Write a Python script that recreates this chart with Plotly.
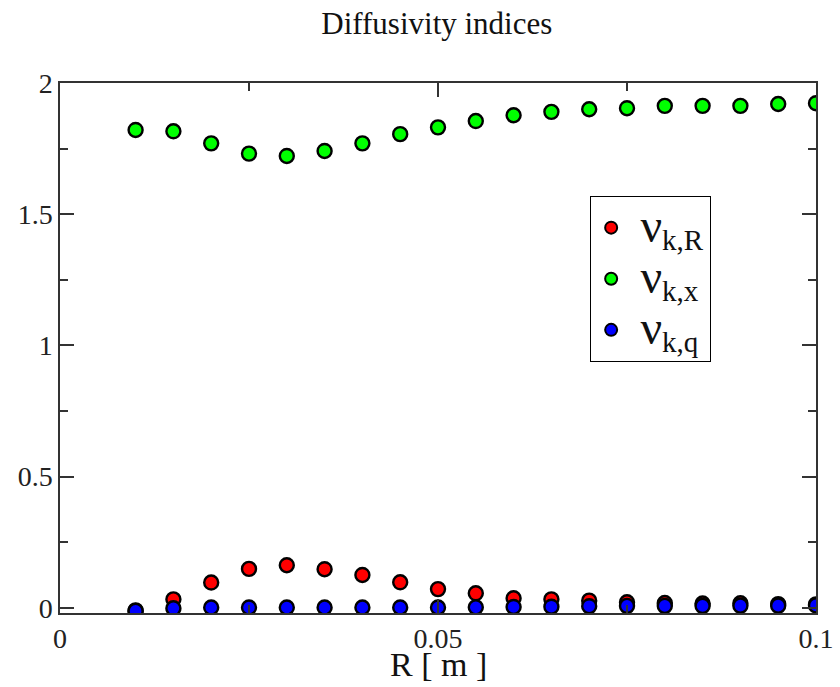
import plotly.graph_objects as go

R = [0.010, 0.015, 0.020, 0.025, 0.030, 0.035, 0.040, 0.045, 0.050, 0.055,
     0.060, 0.065, 0.070, 0.075, 0.080, 0.085, 0.090, 0.095, 0.100]
nu_kR = [-0.010, 0.032, 0.096, 0.148, 0.162, 0.147, 0.125, 0.097, 0.071, 0.055,
         0.036, 0.032, 0.027, 0.021, 0.018, 0.016, 0.017, 0.014, 0.013]
nu_kx = [1.821, 1.816, 1.770, 1.731, 1.722, 1.741, 1.770, 1.805, 1.831, 1.855,
         1.877, 1.890, 1.900, 1.904, 1.913, 1.913, 1.913, 1.920, 1.923]
nu_kq = [-0.012, -0.002, 0.001, 0.001, 0.001, 0.001, 0.001, 0.001, 0.001, 0.002,
         0.003, 0.004, 0.006, 0.007, 0.007, 0.007, 0.008, 0.008, 0.009]

subs = ["k,R", "k,x", "k,q"]
names = ["\u00a0<span style='font-size:48px'>ν</span><sub><span style='font-size:29px'>%s</span></sub>" % s
         for s in subs]
colors = ["#ff0000", "#00ff00", "#0000ff"]
FONT = "Liberation Serif, Times New Roman, serif"

fig = go.Figure()
for ys, nm, c in zip([nu_kR, nu_kx, nu_kq], names, colors):
    fig.add_trace(go.Scatter(
        x=R, y=ys, mode="markers", name=nm,
        marker=dict(size=14, color=c, line=dict(color="black", width=2.4)),
    ))

axis_common = dict(
    showgrid=False, zeroline=False, showline=True, linecolor="#333333",
    linewidth=1.5, mirror="ticks", ticks="inside", tickcolor="#333333",
    ticklen=14, tickwidth=1.5, automargin=False,
    tickfont=dict(family=FONT, size=28, color="#222222"),
)

fig.update_xaxes(
    range=[0, 0.1], tickvals=[0, 0.05, 0.1], ticktext=["0", "0.05", "0.1"],
    minor=dict(tickvals=[0.025, 0.075], ticks="inside", ticklen=8,
               tickcolor="#333333", tickwidth=1.5),
    **axis_common,
)
fig.update_yaxes(
    range=[-0.02, 2.0], tickvals=[0, 0.5, 1, 1.5, 2],
    ticktext=["0", "0.5", "1", "1.5", "2"],
    minor=dict(tickvals=[0.25, 0.75, 1.25, 1.75], ticks="inside", ticklen=8,
               tickcolor="#333333", tickwidth=1.5),
    **axis_common,
)

fig.add_annotation(
    text="R [ m ]", xref="paper", yref="paper", x=0.5, y=-0.0965,
    xanchor="center", yanchor="middle", showarrow=False, borderpad=0,
    font=dict(family=FONT, size=34, color="#111111"),
)

fig.update_layout(
    width=840, height=687,
    margin=dict(l=60, r=24, t=83, b=74, autoexpand=False),
    paper_bgcolor="white", plot_bgcolor="white",
    title=dict(text="Diffusivity indices", x=0.52, xanchor="center",
               y=0.967, yanchor="middle",
               font=dict(family=FONT, size=31, color="#111111")),
    legend=dict(x=0.701, y=0.787, xanchor="left", yanchor="top",
                bordercolor="black", borderwidth=1.2, bgcolor="white",
                font=dict(family=FONT, size=37, color="#111111"),
                itemsizing="constant", tracegroupgap=0),
    showlegend=True,
)

fig.write_html("out.html")
